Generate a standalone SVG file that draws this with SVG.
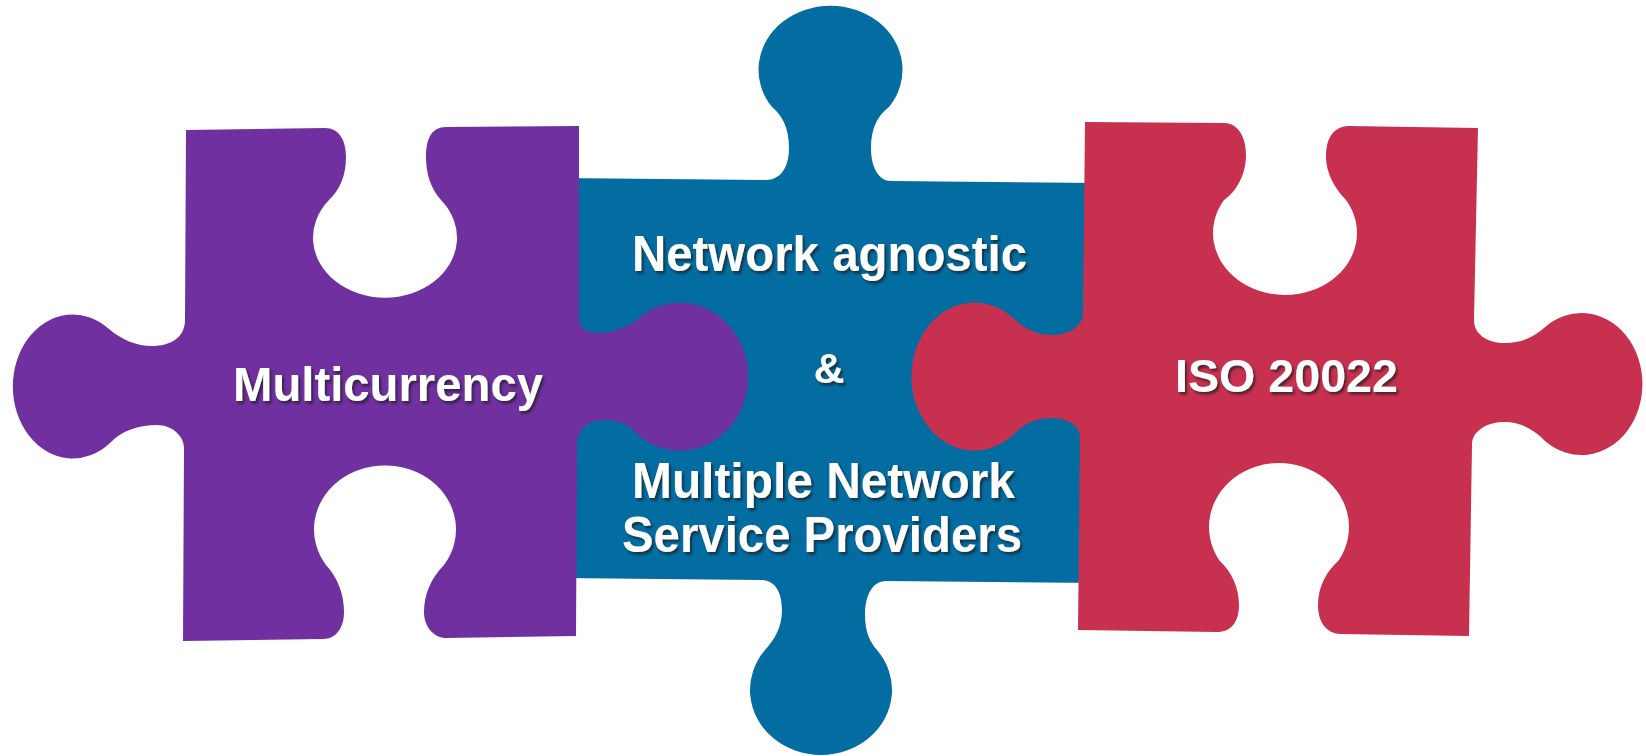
<svg xmlns="http://www.w3.org/2000/svg" width="1646" height="756" viewBox="0 0 1646 756">
<style>
.lbl{font-family:"Liberation Sans",Arial,sans-serif;font-weight:bold;fill:#ffffff;text-anchor:middle;filter:url(#sh)}
.blue{fill:#036ca1}
.purple{fill:#7030a0}
.red{fill:#c7314f}
</style>
<defs>
<filter id="sh" x="-10%" y="-20%" width="120%" height="150%">
<feDropShadow dx="2" dy="2.5" stdDeviation="1.2" flood-color="#1a1a1a" flood-opacity="0.7"/>
</filter>
</defs>
<rect width="1646" height="756" fill="#ffffff"/>
<g id="connectors"></g>
<g id="piece-blue">
<path class="blue" d="M560,178 L766,180 C780,180 789,168 789,148 C789,128 782,115 772,107 A72,64 0 1,1 889,107 C878,115 871,128 871,148 C871,168 879,181 891,181 L1100,183 L1100,583 L886,581 C872,581 865,596 865,615 C865,632 870,642 877,650 A71,65 0 1,1 765,650 C774,640 782,628 782,610 C782,592 775,580 761,580 L560,578 Z"/>
<text class="lbl" x="829.5" y="271" font-size="50" textLength="395" lengthAdjust="spacingAndGlyphs">Network agnostic</text>
<text class="lbl" x="829" y="383" font-size="43">&amp;</text>
<text class="lbl" x="823.5" y="498" font-size="50" textLength="383" lengthAdjust="spacingAndGlyphs">Multiple Network</text>
<text class="lbl" x="822" y="552" font-size="50" textLength="400" lengthAdjust="spacingAndGlyphs">Service Providers</text>
</g>
<g id="piece-purple">
<path class="purple" d="M186,130 L325,128 C339,128 346,140 346,157 C346,175 340,190 329,200 A72,60 0 1,0 441,200 C430,188 426,172 426,157 C426,138 432,127 446,127 L579,126 L579,318 C579,330 590,334 601,333 C617,332 634,324 647,312 A68,74 0 1,1 631,428 C622,422 613,420 605,420 C590,420 577,428 577,445 L576,636 L446,638 C435,638 424,628 424,612 C424,595 431,578 444,565 A71,64 0 1,0 326,565 C338,578 344,595 344,612 C344,628 336,639 323,639 L183,641 L184,448 C184,436 172,425 157,425 C140,425 122,430 110,443 A60,72 0 1,1 109,329 C122,340 137,346 152,346 C170,346 185,338 185,320 Z"/>
<text class="lbl" x="388" y="401" font-size="49" textLength="310" lengthAdjust="spacingAndGlyphs">Multicurrency</text>
</g>
<g id="piece-red">
<path class="red" d="M1085,122 L1225,123 C1239,124 1246,138 1246,155 C1246,175 1236,192 1224,200 A72,62 0 1,0 1346,200 C1334,188 1326,172 1326,157 C1326,140 1332,127 1348,126 L1478,128 L1474,320 C1474,335 1488,343 1505,343 C1520,343 1533,338 1544,328 A61,71 0 1,1 1545,441 C1535,430 1520,422 1505,422 C1488,422 1472,430 1472,445 L1469,636 L1340,634 C1326,633 1318,622 1318,605 C1318,587 1326,572 1339,560 A70,64 0 1,0 1219,560 C1232,572 1239,588 1239,605 C1239,622 1231,632 1217,632 L1078,630 L1080,438 C1080,424 1066,418 1051,418 C1037,418 1023,424 1013,435 A63,74 0 1,1 1013,318 C1023,328 1037,335 1051,335 C1068,335 1083,327 1083,313 Z"/>
<text class="lbl" x="1286.5" y="392" font-size="47" textLength="223" lengthAdjust="spacingAndGlyphs">ISO 20022</text>
</g>
</svg>
